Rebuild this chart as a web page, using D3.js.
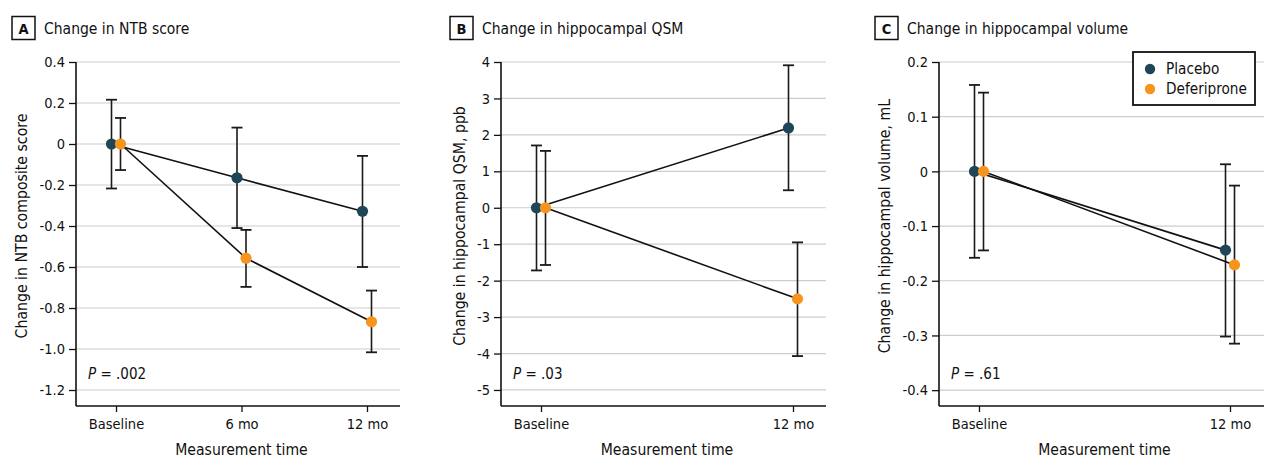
<!DOCTYPE html>
<html>
<head>
<meta charset="utf-8">
<script src="https://cdn.jsdelivr.net/npm/d3@7"></script>
<style>
  html, body { margin: 0; padding: 0; background: #fff; }
  svg { display: block; }
  text { font-family: "DejaVu Sans Condensed", "Liberation Sans Narrow", sans-serif; fill: #111; }
</style>
</head>
<body>
<svg id="chart" width="1280" height="468"></svg>
<script>
// ---------------- DATA ----------------
const seriesNames = ["Placebo", "Deferiprone"];

// Panel A: Change in NTB score
const timesA = ["Baseline", "6 mo", "12 mo"];
const placeboA = [0, -0.165, -0.328];
const placeboA_lo = [-0.217, -0.41, -0.60];
const placeboA_hi = [0.216, 0.08, -0.058];
const deferA = [0, -0.557, -0.867];
const deferA_lo = [-0.127, -0.697, -1.016];
const deferA_hi = [0.127, -0.419, -0.715];
const ticksA = [0.4, 0.2, 0, -0.2, -0.4, -0.6, -0.8, -1.0, -1.2];

// Panel B: Change in hippocampal QSM
const timesB = ["Baseline", "12 mo"];
const placeboB = [0, 2.19];
const placeboB_lo = [-1.72, 0.48];
const placeboB_hi = [1.71, 3.91];
const deferB = [0, -2.50];
const deferB_lo = [-1.57, -4.07];
const deferB_hi = [1.56, -0.95];
const ticksB = [4, 3, 2, 1, 0, -1, -2, -3, -4, -5];

// Panel C: Change in hippocampal volume
const timesC = ["Baseline", "12 mo"];
const placeboC = [0, -0.144];
const placeboC_lo = [-0.158, -0.302];
const placeboC_hi = [0.158, 0.013];
const deferC = [0, -0.171];
const deferC_lo = [-0.1445, -0.315];
const deferC_hi = [0.144, -0.026];
const ticksC = [0.2, 0.1, 0, -0.1, -0.2, -0.3, -0.4];

// ---------------- STYLE ----------------
const colors = { "Placebo": "#1f4656", "Deferiprone": "#f7941d" };
const dodge = 4.5;
const svg = d3.select("#chart");

function fmtTick(dec) {
  return v => {
    if (v === 0) return "0";
    const s = d3.format("." + dec + "f")(Math.abs(v));
    return (v < 0 ? "-" : "") + s;
  };
}

function panel(cfg) {
  const g = svg.append("g");
  const { left, right, top, bottom } = cfg;
  const y = d3.scaleLinear().domain(cfg.domain).range([bottom, top]);
  const x = d3.scalePoint().domain(cfg.times).range(cfg.xRange);

  // gridlines
  g.append("g").selectAll("line").data(cfg.ticks).join("line")
    .attr("x1", left).attr("x2", right)
    .attr("y1", d => y(d)).attr("y2", d => y(d))
    .attr("stroke", "#cdcdcd").attr("stroke-width", 1.2);

  // y axis
  const ya = g.append("g").attr("transform", `translate(${left},0)`)
    .call(d3.axisLeft(y).tickValues(cfg.ticks).tickFormat(fmtTick(cfg.dec)).tickSize(7).tickPadding(4));
  ya.select(".domain").remove();
  ya.selectAll(".tick line").attr("stroke", "#111").attr("stroke-width", 1.3);
  ya.selectAll(".tick text").attr("font-size", 14.5).style("font-family", null).attr("fill", "#111");
  g.append("line").attr("x1", left).attr("x2", left).attr("y1", y(cfg.ticks[0])).attr("y2", bottom)
    .attr("stroke", "#111").attr("stroke-width", 1.6);

  // x axis
  const xa = g.append("g").attr("transform", `translate(0,${bottom})`)
    .call(d3.axisBottom(x).tickSize(6).tickPadding(7));
  xa.select(".domain").remove();
  xa.selectAll(".tick line").attr("stroke", "#111").attr("stroke-width", 1.3);
  xa.selectAll(".tick text").attr("font-size", 14.5).style("font-family", null).attr("fill", "#111");
  g.append("line").attr("x1", left).attr("x2", right).attr("y1", bottom).attr("y2", bottom)
    .attr("stroke", "#111").attr("stroke-width", 1.6);

  // axis titles
  g.append("text").attr("x", d3.mean(cfg.xRange)).attr("y", 455)
    .attr("text-anchor", "middle").attr("font-size", 15.6).text("Measurement time");
  g.append("text")
    .attr("transform", `translate(${cfg.yTitleX},${(y(cfg.ticks[0]) + y(cfg.ticks[cfg.ticks.length - 1])) / 2}) rotate(-90)`)
    .attr("text-anchor", "middle").attr("font-size", 15.7).text(cfg.yTitle);

  // panel label & title
  g.append("rect").attr("x", cfg.boxX).attr("y", 16.5).attr("width", 23).attr("height", 23)
    .attr("fill", "#fff").attr("stroke", "#111").attr("stroke-width", 1.5);
  g.append("text").attr("x", cfg.boxX + 11.5).attr("y", 33.5).attr("text-anchor", "middle")
    .attr("font-size", 14.5).attr("font-weight", "bold").text(cfg.letter);
  g.append("text").attr("x", cfg.boxX + 32).attr("y", 34).attr("font-size", 15.5).text(cfg.title);

  // P value
  const pt = g.append("text").attr("x", left + 12).attr("y", 379).attr("font-size", 15);
  pt.append("tspan").attr("font-style", "italic").text("P");
  pt.append("tspan").text(" = " + cfg.p);

  const series = [
    { name: "Placebo", v: cfg.placebo, lo: cfg.placeboLo, hi: cfg.placeboHi, off: -dodge },
    { name: "Deferiprone", v: cfg.defer, lo: cfg.deferLo, hi: cfg.deferHi, off: dodge }
  ];

  // error bars
  series.forEach(s => {
    const eg = g.append("g");
    cfg.times.forEach((t, i) => {
      const cx = x(t) + s.off;
      eg.append("line").attr("x1", cx).attr("x2", cx).attr("y1", y(s.lo[i])).attr("y2", y(s.hi[i]))
        .attr("stroke", "#1a1a1a").attr("stroke-width", 1.6);
      [s.lo[i], s.hi[i]].forEach(v => {
        eg.append("line").attr("x1", cx - 5.5).attr("x2", cx + 5.5).attr("y1", y(v)).attr("y2", y(v))
          .attr("stroke", "#1a1a1a").attr("stroke-width", 1.8);
      });
    });
  });

  // connecting lines
  const line = d3.line().x(d => d[0]).y(d => d[1]);
  series.forEach(s => {
    g.append("path")
      .attr("d", line(cfg.times.map((t, i) => [x(t) + s.off, y(s.v[i])])))
      .attr("fill", "none").attr("stroke", "#111").attr("stroke-width", 1.6);
  });

  // dots
  series.forEach(s => {
    g.append("g").selectAll("circle").data(cfg.times).join("circle")
      .attr("cx", (t) => x(t) + s.off).attr("cy", (t, i) => y(s.v[i])).attr("r", 5.6)
      .attr("fill", colors[s.name]);
  });

  return g;
}

panel({
  letter: "A", title: "Change in NTB score", boxX: 12,
  left: 76, right: 400, top: 62, bottom: 406, domain: [-1.278, 0.4], xRange: [116, 367],
  times: timesA, ticks: ticksA, dec: 1, yTitle: "Change in NTB composite score", yTitleX: 27, p: ".002",
  placebo: placeboA, placeboLo: placeboA_lo, placeboHi: placeboA_hi,
  defer: deferA, deferLo: deferA_lo, deferHi: deferA_hi
});

panel({
  letter: "B", title: "Change in hippocampal QSM", boxX: 450,
  left: 501, right: 826, top: 62, bottom: 406, domain: [-5.44, 4], xRange: [541, 793],
  times: timesB, ticks: ticksB, dec: 0, yTitle: "Change in hippocampal QSM, ppb", yTitleX: 465, p: ".03",
  placebo: placeboB, placeboLo: placeboB_lo, placeboHi: placeboB_hi,
  defer: deferB, deferLo: deferB_lo, deferHi: deferB_hi
});

panel({
  letter: "C", title: "Change in hippocampal volume", boxX: 875,
  left: 939, right: 1264, top: 62, bottom: 406, domain: [-0.429, 0.2], xRange: [979, 1230],
  times: timesC, ticks: ticksC, dec: 1, yTitle: "Change in hippocampal volume, mL", yTitleX: 890, p: ".61",
  placebo: placeboC, placeboLo: placeboC_lo, placeboHi: placeboC_hi,
  defer: deferC, deferLo: deferC_lo, deferHi: deferC_hi
});

// legend (panel C)
const lg = svg.append("g").attr("transform", "translate(1133,52)");
lg.append("rect").attr("width", 122).attr("height", 53).attr("fill", "#fff")
  .attr("stroke", "#111").attr("stroke-width", 1.8);
seriesNames.forEach((n, i) => {
  lg.append("circle").attr("cx", 17).attr("cy", 17 + i * 20).attr("r", 5.2).attr("fill", colors[n]);
  lg.append("text").attr("x", 33).attr("y", 22 + i * 20).attr("font-size", 15.2).text(n);
});
</script>
</body>
</html>
